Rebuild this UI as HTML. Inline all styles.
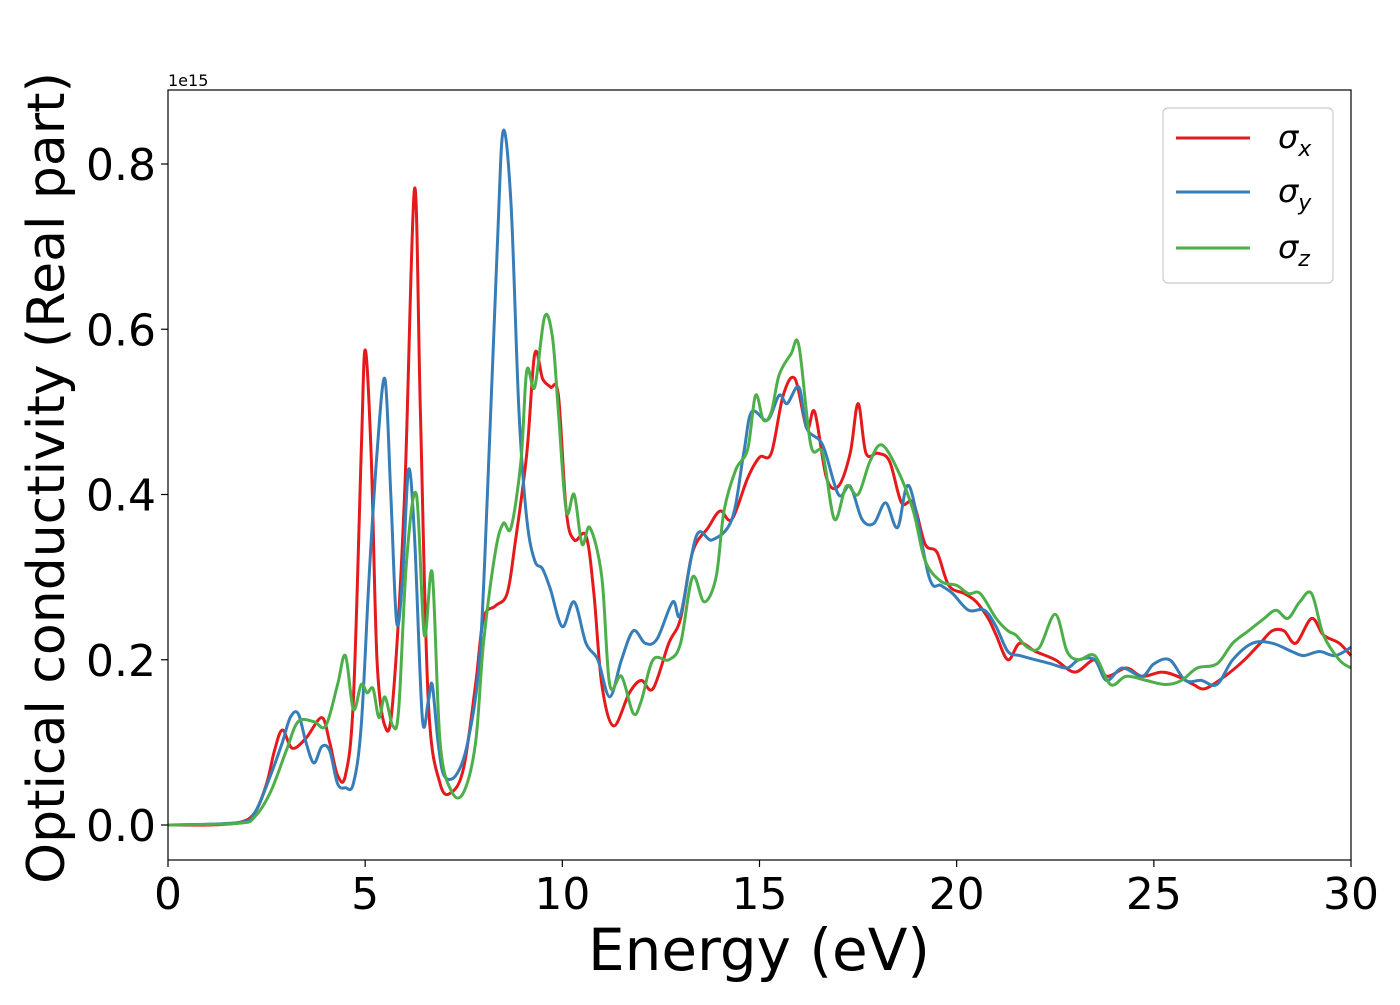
<!DOCTYPE html>
<html><head><meta charset="utf-8"><style>
body{margin:0;background:#fff;}
svg text{font-family:"DejaVu Sans","Liberation Sans",sans-serif;}
</style></head><body>
<svg id="chart" width="1400" height="1000" viewBox="0 0 1400 1000" xmlns="http://www.w3.org/2000/svg">
<rect width="1400" height="1000" fill="#fff"/>
<g id="series"></g>
<g id="axes"></g>
<rect x="168" y="90" width="1183" height="770" fill="none" stroke="#000" stroke-width="1.2"/>
<text x="168" y="86" font-size="16">1e15</text>
<text x="759" y="970" font-size="58" text-anchor="middle">Energy (eV)</text>
<text transform="translate(64,478) rotate(-90)" font-size="52" text-anchor="middle">Optical conductivity (Real part)</text>
<g>
<rect x="1163" y="108" width="170" height="175" rx="5" fill="#fff" stroke="#ccc" stroke-width="1.2"/>
<line x1="1176" y1="138" x2="1250" y2="138" stroke="#e41a1c" stroke-width="3"/>
<text x="1278" y="148" font-size="32" font-style="italic">σ<tspan font-size="22" dy="8">x</tspan></text>
<line x1="1176" y1="192" x2="1250" y2="192" stroke="#377eb8" stroke-width="3"/>
<text x="1278" y="202" font-size="32" font-style="italic">σ<tspan font-size="22" dy="8">y</tspan></text>
<line x1="1176" y1="248" x2="1250" y2="248" stroke="#4daf4a" stroke-width="3"/>
<text x="1278" y="258" font-size="32" font-style="italic">σ<tspan font-size="22" dy="8">z</tspan></text>
</g>
</svg>
<script>
const xTicks=[0,5,10,15,20,25,30];
const yTicks=[0.0,0.2,0.4,0.6,0.8];
const sxE=[0,1,1.8,2.2,2.5,2.7,2.9,3.15,3.5,3.9,4.1,4.3,4.5,4.7,4.9,5.0,5.15,5.3,5.5,5.7,6.0,6.25,6.4,6.6,6.9,7.2,7.5,7.8,8.0,8.3,8.6,8.8,9.1,9.3,9.5,9.7,9.9,10.1,10.3,10.6,10.8,11.0,11.3,11.7,12.0,12.3,12.7,13.0,13.3,13.7,14.0,14.3,14.7,15.0,15.3,15.6,15.9,16.2,16.4,16.7,17.0,17.3,17.5,17.7,18.0,18.3,18.6,18.9,19.2,19.5,19.8,20.2,20.5,20.8,21.0,21.3,21.6,22.0,22.5,23.0,23.5,23.8,24.3,24.7,25.2,25.6,26.0,26.3,26.8,27.3,27.7,28.0,28.3,28.6,29.0,29.3,29.7,30];
const sxV=[0,0,0.003,0.015,0.05,0.09,0.115,0.093,0.105,0.13,0.1,0.06,0.06,0.15,0.45,0.575,0.45,0.2,0.12,0.15,0.4,0.77,0.5,0.15,0.05,0.04,0.07,0.17,0.25,0.265,0.28,0.34,0.45,0.57,0.54,0.53,0.52,0.38,0.345,0.35,0.28,0.17,0.12,0.16,0.175,0.165,0.22,0.25,0.33,0.36,0.38,0.37,0.42,0.445,0.45,0.52,0.54,0.48,0.5,0.42,0.41,0.45,0.51,0.45,0.45,0.44,0.39,0.39,0.34,0.33,0.29,0.28,0.27,0.25,0.23,0.2,0.22,0.21,0.2,0.185,0.2,0.18,0.19,0.18,0.185,0.18,0.17,0.165,0.18,0.2,0.22,0.235,0.235,0.22,0.25,0.23,0.22,0.205];
const syE=[0,1.8,2.2,2.6,2.9,3.1,3.3,3.5,3.7,3.9,4.1,4.3,4.5,4.7,4.9,5.1,5.3,5.5,5.65,5.8,5.95,6.1,6.25,6.45,6.6,6.7,6.85,7.0,7.3,7.6,7.9,8.1,8.35,8.5,8.7,8.9,9.1,9.3,9.5,9.7,10.0,10.3,10.6,10.9,11.2,11.5,11.8,12.1,12.4,12.8,13.0,13.4,13.8,14.3,14.6,14.8,15.2,15.5,15.7,16.0,16.2,16.6,17.0,17.3,17.6,17.9,18.2,18.5,18.8,19.3,19.6,19.9,20.3,20.7,21.0,21.3,21.6,22.0,22.4,22.8,23.1,23.5,23.8,24.2,24.7,25.0,25.4,25.8,26.2,26.6,27.0,27.5,28.0,28.5,28.8,29.2,29.6,30];
const syV=[0,0.003,0.015,0.06,0.1,0.13,0.135,0.1,0.075,0.095,0.09,0.05,0.045,0.05,0.12,0.3,0.45,0.54,0.4,0.245,0.3,0.43,0.35,0.13,0.15,0.17,0.1,0.06,0.06,0.1,0.2,0.4,0.7,0.84,0.75,0.5,0.37,0.32,0.31,0.285,0.24,0.27,0.22,0.2,0.155,0.2,0.235,0.22,0.225,0.27,0.255,0.35,0.345,0.37,0.45,0.5,0.49,0.52,0.51,0.53,0.48,0.46,0.4,0.41,0.37,0.365,0.39,0.36,0.41,0.3,0.29,0.28,0.26,0.26,0.24,0.21,0.205,0.2,0.195,0.19,0.2,0.2,0.175,0.19,0.18,0.195,0.2,0.175,0.175,0.17,0.2,0.22,0.22,0.21,0.205,0.21,0.205,0.215];
const szE=[0,1.8,2.2,2.6,3.0,3.3,3.7,4.0,4.3,4.5,4.7,4.9,5.05,5.2,5.35,5.5,5.7,5.85,6.05,6.3,6.5,6.7,6.9,7.2,7.5,7.8,8.0,8.3,8.5,8.7,8.95,9.1,9.3,9.55,9.75,9.9,10.1,10.3,10.5,10.7,11.0,11.2,11.5,11.8,12.0,12.3,12.7,13.0,13.3,13.6,13.9,14.1,14.4,14.7,14.9,15.1,15.3,15.5,15.8,16.0,16.3,16.6,16.9,17.2,17.5,17.8,18.1,18.5,18.9,19.2,19.6,20.0,20.3,20.6,21.0,21.3,21.5,21.8,22.1,22.5,22.8,23.1,23.5,23.9,24.3,24.8,25.3,25.7,26.1,26.6,27.0,27.4,27.8,28.1,28.4,28.7,29.0,29.3,29.7,30];
const szV=[0,0.002,0.01,0.04,0.09,0.125,0.125,0.12,0.17,0.205,0.14,0.17,0.16,0.165,0.13,0.155,0.12,0.14,0.32,0.4,0.23,0.305,0.1,0.04,0.04,0.1,0.22,0.33,0.365,0.36,0.44,0.55,0.53,0.615,0.59,0.5,0.38,0.4,0.34,0.36,0.3,0.17,0.18,0.135,0.15,0.2,0.2,0.22,0.3,0.27,0.3,0.38,0.43,0.455,0.52,0.49,0.5,0.545,0.57,0.58,0.46,0.45,0.37,0.41,0.4,0.44,0.46,0.43,0.38,0.32,0.295,0.29,0.28,0.28,0.25,0.235,0.23,0.215,0.215,0.255,0.21,0.2,0.205,0.17,0.18,0.175,0.17,0.175,0.19,0.195,0.22,0.235,0.25,0.26,0.25,0.27,0.28,0.23,0.2,0.19];
const NS="http://www.w3.org/2000/svg";
const X0=168,X1=1351,Y0=825,Y08=164;
const xs=e=>X0+(X1-X0)*e/30;
const ys=v=>Y0-(Y0-Y08)*v/0.8;
function smooth(E,V){
  const p=E.map((e,i)=>[xs(e),ys(V[i])]);
  let d="M"+p[0][0].toFixed(1)+","+p[0][1].toFixed(1);
  for(let i=0;i<p.length-1;i++){
    const a=p[i-1]||p[i],b=p[i],c=p[i+1],n=p[i+2]||c;
    const c1=[b[0]+(c[0]-a[0])/6,b[1]+(c[1]-a[1])/6];
    const c2=[c[0]-(n[0]-b[0])/6,c[1]-(n[1]-b[1])/6];
    d+="C"+c1[0].toFixed(1)+","+c1[1].toFixed(1)+" "+c2[0].toFixed(1)+","+c2[1].toFixed(1)+" "+c[0].toFixed(1)+","+c[1].toFixed(1);
  }
  return d;
}
const sg=document.getElementById("series");
[[sxE,sxV,"#e41a1c","line-sigma-x"],[syE,syV,"#377eb8","line-sigma-y"],[szE,szV,"#4daf4a","line-sigma-z"]].forEach(s=>{
  const path=document.createElementNS(NS,"path");
  path.setAttribute("d",smooth(s[0],s[1]));
  path.setAttribute("fill","none");
  path.setAttribute("stroke",s[2]);
  path.setAttribute("stroke-width","3");
  path.setAttribute("stroke-linejoin","round");
  
  
  sg.appendChild(path);
});
const ag=document.getElementById("axes");
xTicks.forEach(t=>{
  const l=document.createElementNS(NS,"line");
  l.setAttribute("x1",xs(t));l.setAttribute("x2",xs(t));l.setAttribute("y1",860);l.setAttribute("y2",867);
  l.setAttribute("stroke","#000");l.setAttribute("stroke-width","1.2");
  
  
  ag.appendChild(l);
  const tx=document.createElementNS(NS,"text");
  tx.setAttribute("x",xs(t));tx.setAttribute("y",909);tx.setAttribute("font-size","44");tx.setAttribute("text-anchor","middle");
  tx.textContent=t;
  
  
  ag.appendChild(tx);
});
yTicks.forEach(t=>{
  const l=document.createElementNS(NS,"line");
  l.setAttribute("x1",161);l.setAttribute("x2",168);l.setAttribute("y1",ys(t));l.setAttribute("y2",ys(t));
  l.setAttribute("stroke","#000");l.setAttribute("stroke-width","1.2");
  
  
  ag.appendChild(l);
  const tx=document.createElementNS(NS,"text");
  tx.setAttribute("x",156);tx.setAttribute("y",ys(t)+16);tx.setAttribute("font-size","44");tx.setAttribute("text-anchor","end");
  tx.textContent=t.toFixed(1);
  
  
  ag.appendChild(tx);
});
</script>
</body></html>
